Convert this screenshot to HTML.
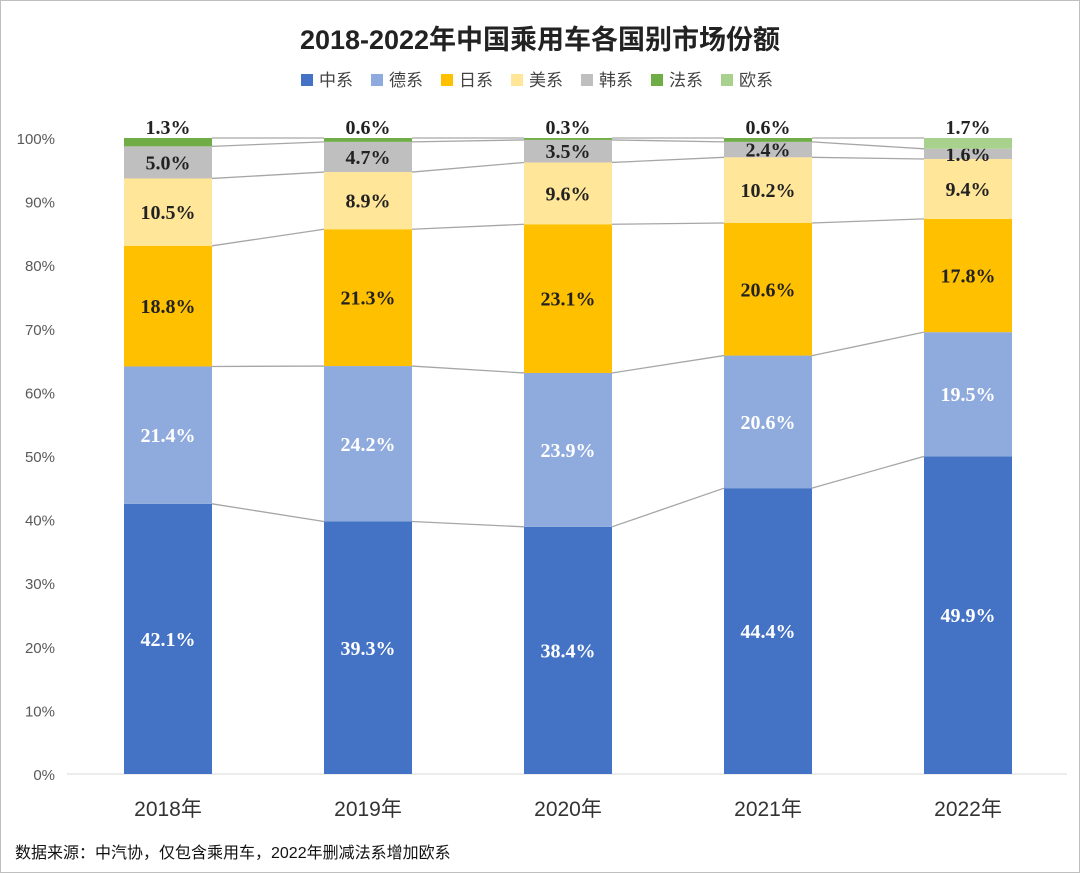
<!DOCTYPE html>
<html><head><meta charset="utf-8">
<style>
body{margin:0;background:#fff;}
#wrap{position:relative;width:1078px;height:871px;border:1px solid #bfbfbf;overflow:hidden;}
svg{display:block}
</style></head>
<body>
<div id="wrap">
<svg id="chart" width="1078" height="871"></svg>
</div>
<script>
const categories = ["2018年","2019年","2020年","2021年","2022年"];
const seriesNames = ["中系","德系","日系","美系","韩系","法系","欧系"];
const seriesColors = ["#4472c4","#8faadc","#ffc000","#ffe699","#bfbfbf","#70ad47","#a9d18e"];
const sZhong = [42.1,39.3,38.4,44.4,49.9];
const sDe = [21.4,24.2,23.9,20.6,19.5];
const sRi = [18.8,21.3,23.1,20.6,17.8];
const sMei = [10.5,8.9,9.6,10.2,9.4];
const sHan = [5.0,4.7,3.5,2.4,1.6];
const sFa = [1.3,0.6,0.3,0.6,0];
const sOu = [0,0,0,0,1.7];
const yTicks = [0,10,20,30,40,50,60,70,80,90,100];
const series = [sZhong,sDe,sRi,sMei,sHan,sFa,sOu];

const NS="http://www.w3.org/2000/svg";
const svg=document.getElementById('chart');
function mk(tag,attrs,parent){const e=document.createElementNS(NS,tag);for(const k in attrs)e.setAttribute(k,attrs[k]);(parent||svg).appendChild(e);return e;}
const y0=773, y100=137;
const yS=v=>y0-(y0-y100)*v/100;
const x0=167, step=200, bw=88;
const xS=i=>x0+i*step;

// title
let t=mk('text',{x:539,y:48,'text-anchor':'middle','font-size':27,'font-weight':'bold',fill:'#222','font-family':'"Liberation Sans","Noto Sans CJK SC",sans-serif'});
t.textContent="2018-2022年中国乘用车各国别市场份额";


// legend
let lx=300;
seriesNames.forEach((n,i)=>{
  const g=mk('g',{});
  
  
  mk('rect',{x:lx,y:73,width:12,height:12,fill:seriesColors[i]},g);
  const tx=mk('text',{x:lx+18,y:85,'font-size':17,fill:'#444','font-family':'"Liberation Sans","Noto Sans CJK SC",sans-serif'},g);
  tx.textContent=n;
  lx+=70;
});

// y axis ticks
yTicks.forEach(v=>{
  const tx=mk('text',{x:54,y:yS(v)+6,'text-anchor':'end','font-size':15,fill:'#595959','font-family':'"Liberation Sans",sans-serif'});
  tx.textContent=v+"%";
  
  
});
const base=mk('line',{x1:66,x2:1066,y1:y0,y2:y0,stroke:'#d9d9d9','stroke-width':1});


// compute normalized cumulative
const cum=categories.map((c,i)=>{
  const tot=series.reduce((a,s)=>a+s[i],0);
  let acc=0;return series.map(s=>{const b=acc;acc+=s[i]*100/tot;return [b,acc];});
});

// connector lines
for(let k=0;k<5;k++){
  for(let i=0;i<categories.length-1;i++){
    const l=mk('line',{x1:xS(i)+bw/2,y1:yS(cum[i][k][1]),x2:xS(i+1)-bw/2,y2:yS(cum[i+1][k][1]),stroke:'#a6a6a6','stroke-width':1.3});
    
  }
}
// top connector for last
for(let i=0;i<categories.length-1;i++){
  const l=mk('line',{x1:xS(i)+bw/2,y1:yS(100),x2:xS(i+1)-bw/2,y2:yS(100),stroke:'#a6a6a6','stroke-width':1.3});
  
}

categories.forEach((c,i)=>{
  series.forEach((s,k)=>{
    if(s[i]<=0)return;
    const [b,e]=cum[i][k];
    const r=mk('rect',{x:xS(i)-bw/2,y:yS(e),width:bw,height:yS(b)-yS(e),fill:seriesColors[k]});
    
    
    const small=k>=5;
    const ly=small?yS(100)-4:(yS(b)+yS(e))/2+7;
    const tx=mk('text',{x:xS(i),y:ly,'text-anchor':'middle','font-size':20,'font-weight':'bold',fill:k<2?'#fff':'#222','font-family':'"Liberation Serif",serif'});
    tx.textContent=s[i].toFixed(1)+"%";
    
    
  });
  const cx=mk('text',{x:xS(i),y:815,'text-anchor':'middle','font-size':21,fill:'#333','font-family':'"Liberation Sans","Noto Sans CJK SC",sans-serif'});
  cx.textContent=c;
  
  
});

const src=mk('text',{x:14,y:857,'font-size':16,fill:'#111','font-family':'"Liberation Sans","Noto Sans CJK SC",sans-serif'});
src.textContent="数据来源：中汽协，仅包含乘用车，2022年删减法系增加欧系";

</script>
</body></html>
